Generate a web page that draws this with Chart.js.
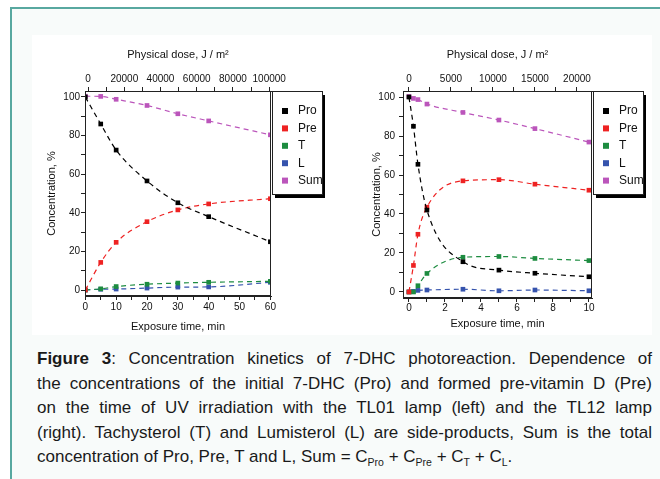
<!DOCTYPE html>
<html lang="en">
<head>
  <meta charset="UTF-8" />
  <title>Figure 3: Concentration kinetics of 7-DHC photoreaction</title>
  <script src="https://cdn.jsdelivr.net/npm/chart.js"></script>
  <style>
    body { margin: 0; width: 660px; height: 479px; overflow: hidden; position: relative; background: #fff; font-family: "Liberation Sans", Arial, sans-serif; }
    .frame { position: absolute; left: 10px; top: 7px; width: 660px; height: 480px; border-left: 2px solid #58a8a0; border-top: 2px solid #58a8a0; background: #f8fbfa; }
    .panel { position: absolute; left: 32px; top: 35px; width: 620px; height: 300px; background: #fff; }
    .box { position: absolute; top: 35px; height: 300px; }
    #boxL { left: 35px; width: 295px; }
    #boxR { left: 345px; width: 307px; }
    .caption { position: absolute; left: 37px; top: 347px; width: 615px; font-size: 17px; line-height: 24.5px; color: #1a1a1a; }
    .caption div { text-align: justify; text-align-last: justify; white-space: nowrap; }
    .caption div.last { text-align-last: left; }
    .caption sub { font-size: 10.5px; vertical-align: -4px; line-height: 0; }
  </style>
</head>
<body>
  <div class="frame"></div>
  <div class="panel"></div>
  <div class="box" id="boxL"><canvas id="chartL"></canvas></div>
  <div class="box" id="boxR"><canvas id="chartR"></canvas></div>
  <div class="caption">
    <div><b>Figure 3</b>: Concentration kinetics of 7-DHC photoreaction. Dependence of</div>
    <div>the concentrations of the initial 7-DHC (Pro) and formed pre-vitamin D (Pre)</div>
    <div>on the time of UV irradiation with the TL01 lamp (left) and the TL12 lamp</div>
    <div>(right). Tachysterol (T) and Lumisterol (L) are side-products, Sum is the total</div>
    <div class="last">concentration of Pro, Pre, T and L, Sum = C<sub>Pro</sub> + C<sub>Pre</sub> + C<sub>T</sub> + C<sub>L</sub>.</div>
  </div>
  <script>
    // series names / colours
    const seriesNames = ['Pro', 'Pre', 'T', 'L', 'Sum'];
    const seriesColors = ['#000000', '#ee2222', '#1d8c40', '#3553ad', '#bb55bb'];

    // TL01 lamp (left)
    const timeTL01 = [0, 5, 10, 20, 30, 40, 60];
    const proTL01 = [100, 86, 72.5, 56.5, 45.2, 38, 25];
    const preTL01 = [0, 14.3, 24.7, 35.4, 41.5, 44.6, 47.3];
    const tTL01 = [0, 0.6, 1.8, 3, 3.6, 4, 4.5];
    const lTL01 = [0, 0.4, 0.5, 1, 1.5, 1.6, 4];
    const sumTL01 = [100.4, 100.3, 98.8, 95.6, 91.3, 87.6, 80.4];

    // TL12 lamp (right)
    const timeTL12 = [0, 0.25, 0.5, 1, 3, 5, 7, 10];
    const proTL12 = [100, 85, 65.5, 42, 15.5, 11.2, 9.6, 7.8];
    const preTL12 = [0, 13.6, 29.6, 43.5, 57, 57.6, 55.3, 52.2];
    const tTL12 = [0, 0, 3.2, 9.5, 17.8, 18.2, 17.2, 16.1];
    const lTL12 = [0, 0.3, 0.8, 1, 1.4, 0.6, 1, 0.6];
    const sumTL12 = [100.3, 99.3, 98.7, 96.4, 92.1, 88.2, 83.8, 76.9];

    // tick labels
    const concTicks = [0, 10, 20, 30, 40, 50, 60, 70, 80, 90, 100];
    const timeTicksTL01 = [0, 5, 10, 15, 20, 25, 30, 35, 40, 45, 50, 55, 60];
    const doseTicksTL01 = [0, 10000, 20000, 30000, 40000, 50000, 60000, 70000, 80000, 90000, 100000];
    const timeTicksTL12 = [0, 1, 2, 3, 4, 5, 6, 7, 8, 9, 10];
    const doseTicksTL12 = [0, 2500, 5000, 7500, 10000, 12500, 15000, 17500, 20000];

    const FONT = "'Liberation Sans Narrow', 'Arial Narrow', 'Liberation Sans', Arial, sans-serif";
    const AXIS = '#222';

    const frameAndLegend = {
      id: 'frameAndLegend',
      afterDraw(chart) {
        const { ctx, chartArea: a } = chart;
        ctx.save();
        ctx.strokeStyle = AXIS;
        ctx.lineWidth = 1;
        ctx.strokeRect(a.left + 0.5, a.top + 0.5, a.right - a.left - 1, a.bottom - a.top - 1);
        const x = a.right + 1, y = a.top, w = 50, h = 103;
        ctx.fillStyle = '#000';
        ctx.fillRect(x + 3, y + 4, w, h);
        ctx.fillStyle = '#fff';
        ctx.fillRect(x, y, w, h);
        ctx.strokeRect(x + 0.5, y + 0.5, w, h);
        ctx.font = '12px ' + FONT;
        ctx.textBaseline = 'middle';
        chart.data.datasets.forEach((ds, i) => {
          const ry = y + 20 + i * 17.4;
          ctx.fillStyle = ds.borderColor;
          ctx.fillRect(x + 10, ry - 3, 6, 6);
          ctx.fillStyle = '#111';
          ctx.fillText(ds.label, x + 26, ry);
        });
        ctx.restore();
      }
    };

    function makeChart(id, times, values, cfg) {
      const datasets = values.map((vals, i) => ({
        label: seriesNames[i],
        data: times.map((t, j) => ({ x: t, y: vals[j] })),
        borderColor: seriesColors[i],
        backgroundColor: seriesColors[i],
        borderWidth: 1.2,
        borderDash: [5, 4],
        cubicInterpolationMode: 'monotone',
        pointStyle: 'rect',
        pointRadius: 3.3,
        pointBorderWidth: 0
      }));
      const tickFont = { family: FONT, size: 10 };
      const titleFont = { family: FONT, size: 11 };
      return new Chart(document.getElementById(id), {
        type: 'line',
        data: { datasets },
        options: {
          responsive: true,
          maintainAspectRatio: false,
          animation: false,
          layout: { padding: { left: 0, right: cfg.padRight, top: 0, bottom: 0 } },
          plugins: { legend: { display: false }, tooltip: { enabled: false } },
          scales: {
            x: {
              type: 'linear', position: 'bottom', min: cfg.tMin, max: cfg.tMax,
              afterBuildTicks: s => { s.ticks = cfg.timeTicks.map(v => ({ value: v })); },
              afterFit: s => { s.height = cfg.bottomH; },
              ticks: { autoSkip: false, maxRotation: 0, padding: cfg.bottomPad, font: tickFont, color: '#111',
                callback: v => (v % cfg.timeMajor === 0 ? v : '') },
              grid: { drawOnChartArea: false, tickLength: 4, color: AXIS },
              border: { color: AXIS },
              title: { display: true, text: 'Exposure time, min', font: titleFont, color: '#111', padding: { top: 0, bottom: cfg.bottomTitlePad } }
            },
            x2: {
              type: 'linear', position: 'top', min: cfg.dMin, max: cfg.dMax,
              afterBuildTicks: s => { s.ticks = cfg.doseTicks.map(v => ({ value: v })); },
              afterFit: s => { s.height = 56; },
              ticks: { autoSkip: false, maxRotation: 0, padding: 2, font: tickFont, color: '#111',
                callback: v => (v % cfg.doseMajor === 0 ? v : '') },
              grid: { drawOnChartArea: false, tickLength: 4, color: AXIS },
              border: { color: AXIS },
              title: { display: true, text: 'Physical dose, J / m²', font: titleFont, color: '#111', padding: { top: 13, bottom: 0 } }
            },
            y: {
              type: 'linear', position: 'left', min: -3.1, max: 103.1,
              afterBuildTicks: s => { s.ticks = concTicks.map(v => ({ value: v })); },
              afterFit: s => { s.width = cfg.leftW; },
              ticks: { autoSkip: false, padding: cfg.leftPad, font: tickFont, color: '#111',
                callback: v => (v % 20 === 0 ? v : '') },
              grid: { drawOnChartArea: false, tickLength: 4, color: AXIS },
              border: { color: AXIS },
              title: { display: true, text: 'Concentration, %', font: titleFont, color: '#111', padding: { top: cfg.yTitlePad, bottom: 0 } }
            }
          }
        },
        plugins: [frameAndLegend]
      });
    }

    makeChart('chartL', timeTL01, [proTL01, preTL01, tTL01, lTL01, sumTL01], {
      tMin: -0.1, tMax: 60.2, dMin: -1700, dMax: 101000,
      timeTicks: timeTicksTL01, timeMajor: 10, doseTicks: doseTicksTL01, doseMajor: 20000,
      padRight: 59, leftW: 50, leftPad: 1, bottomH: 39, bottomPad: 1, bottomTitlePad: 1,
      yTitlePad: 10
    });

    makeChart('chartR', timeTL12, [proTL12, preTL12, tTL12, lTL12, sumTL12], {
      tMin: -0.33, tMax: 10.17, dMin: -714, dMax: 21786,
      timeTicks: timeTicksTL12, timeMajor: 2, doseTicks: doseTicksTL12, doseMajor: 5000,
      padRight: 60, leftW: 58, leftPad: 4, bottomH: 37, bottomPad: 0, bottomTitlePad: 4,
      yTitlePad: 25
    });
  </script>
</body>
</html>
